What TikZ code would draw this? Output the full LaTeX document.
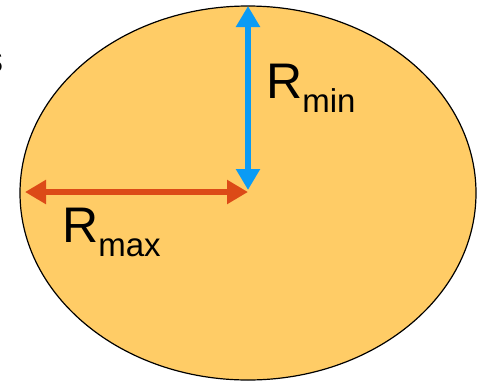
\documentclass[tikz,border=0pt]{standalone}
\usepackage{fontspec}
\setmainfont{Liberation Sans}
\usetikzlibrary{arrows.meta,shapes.geometric}
\definecolor{fillorange}{HTML}{FFCC66}
\definecolor{arrblue}{HTML}{0A9BF5}
\definecolor{arrred}{HTML}{DC4A17}
\begin{document}
\begin{tikzpicture}[x=1pt,y=-1pt,
  dblarrow/.style={line width=6pt,{Triangle[width=23pt,length=21pt]}-{Triangle[width=23pt,length=21pt]}, shorten <=0pt, shorten >=0pt},
  lbl/.style={inner sep=0pt, anchor=base west, font=\fontsize{50}{50}\selectfont}]
\useasboundingbox (0,0) rectangle (481,381);
\node[ellipse, draw=black, line width=1.2pt, fill=fillorange, minimum width=456pt, minimum height=374pt, inner sep=0pt] (ell) at (248,193) {};
\coordinate (c) at (248,190);
\coordinate (top) at (248,6);
\coordinate (cr) at (248,192);
\coordinate (left) at (25,192);
\draw[dblarrow, draw=arrblue, fill=arrblue] (top) -- (c);
\draw[dblarrow, draw=arrred, fill=arrred] (left) -- (cr);
\node[lbl] (rmin) at (266,98) {R\raisebox{-14pt}{\fontsize{33}{33}\selectfont min}};
\node[lbl] (rmax) at (62,242) {R\raisebox{-14pt}{\fontsize{33}{33}\selectfont max}};
\node[inner sep=0pt, anchor=east, font=\fontsize{38}{38}\selectfont] (s) at (4,62) {s};
\end{tikzpicture}
\end{document}
